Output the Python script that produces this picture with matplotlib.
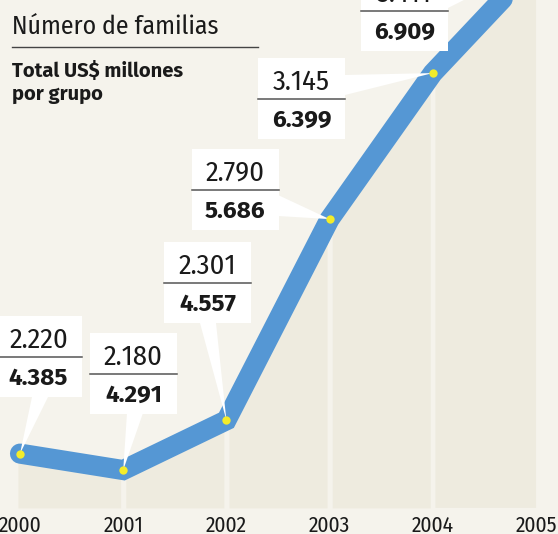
import matplotlib
matplotlib.use("Agg")
import numpy as np
import matplotlib.pyplot as plt
from matplotlib.patches import Rectangle, Polygon
from matplotlib.transforms import Affine2D, blended_transform_factory

# data
years = [2000, 2001, 2002, 2003, 2004, 2005]
familias = [2220, 2180, 2301, 2790, 3145, 3411]
total_usd = [4385, 4291, 4557, 5686, 6399, 6909]

# label boxes (pixel layout: left edge, top edge) and connector bases
box_left = [-5, 90, 164, 192, 258, 361]
box_top = [316, 333, 242, 149, 58, -30]
wedge_base = [
    ((32, 397), (48, 397)),
    ((127, 413), (143, 413)),
    ((200, 323), (216, 323)),
    ((278, 195), (278, 216)),
    ((345, 75), (345, 95)),
    ((448, -4), (448, 8)),
]

W, H = 558, 534
BG = "#f5f3ec"
AREA = "#eeebdf"
BLUE = "#5597d4"
YELLOW = "#f3ec2a"
INK = "#1a1a1a"
COND = ["Fira Sans Condensed", "DejaVu Sans"]
WIDE = ["Fira Sans", "DejaVu Sans"]


def fmt(v):
    return f"{v:,}".replace(",", ".")


fig = plt.figure(figsize=(W / 100, H / 100), dpi=100, facecolor=BG)
ax = fig.add_axes([0, 0, 1, 1])
ax.set_facecolor(BG)
ax.axis("off")
ax.set_xlim(1999.806, 2005.213)
ax.set_ylim(2024.6, 3322.6)

# pixel coordinates, y measured from the top
pix = Affine2D().scale(1 / W, -1 / H).translate(0, 1) + fig.transFigure


def to_pix(x, y):
    fx, fy = fig.transFigure.inverted().transform(ax.transData.transform((x, y)))
    return fx * W, (1 - fy) * H


# columns under the line
base = 2088
gap = 0.025
for i in range(len(years) - 1):
    x0 = years[i] + (gap if i > 0 else -0.02)
    x1 = years[i + 1] - (gap if i < len(years) - 2 else 0)
    xs = np.array([x0, x1])
    ys = np.interp(xs, years, familias)
    ax.fill_between(xs, ys, base, color=AREA, lw=0, zorder=1)

ax.plot(years, familias, color=BLUE, lw=14.5, solid_capstyle="round",
        solid_joinstyle="miter", zorder=3)

# labels
for i, yr in enumerate(years):
    tip = to_pix(yr, familias[i])
    (ax1, ay1), (ax2, ay2) = wedge_base[i]
    ax.add_patch(Polygon([(ax1, ay1), (ax2, ay2), tip], closed=True,
                         transform=pix, fc="white", ec="none", zorder=4,
                         clip_on=False))
    x0, top = box_left[i], box_top[i]
    ax.add_patch(Rectangle((x0, top), 87, 81, transform=pix, fc="white",
                           ec="none", zorder=5, clip_on=False))
    ax.plot([x0, x0 + 87], [top + 41, top + 41], transform=pix,
            color="#555555", lw=1.1, zorder=6, clip_on=False)
    cx = x0 + 43.5
    ax.text(cx, top + 32, fmt(familias[i]), transform=pix, ha="center",
            va="baseline", family=COND, weight="normal", fontsize=20.5,
            color=INK, zorder=7)
    ax.text(cx, top + 69, fmt(total_usd[i]), transform=pix, ha="center",
            va="baseline", family=WIDE, weight="bold", fontsize=17.5,
            color=INK, zorder=7)

ax.plot(years, familias, "o", ms=6, color=YELLOW, mec="none", zorder=8)

# year labels
xlab = blended_transform_factory(ax.transData, pix)
for yr in years:
    ax.text(yr, 532, str(yr), transform=xlab, ha="center", va="baseline",
            family=COND, weight="normal", fontsize=15.5, color=INK)

# header
ax.text(12, 34, "Número de familias", transform=pix, ha="left",
        va="baseline", family=COND, weight="normal", fontsize=18.5, color=INK)
ax.plot([12, 258], [47, 47], transform=pix, color="#444444", lw=1.0)
ax.text(12, 77, "Total US$ millones", transform=pix, ha="left",
        va="baseline", family=WIDE, weight="bold", fontsize=14.5, color=INK)
ax.text(12, 100, "por grupo", transform=pix, ha="left", va="baseline",
        family=WIDE, weight="bold", fontsize=14.5, color=INK)

fig.savefig("out.png", dpi=100, facecolor=BG)
